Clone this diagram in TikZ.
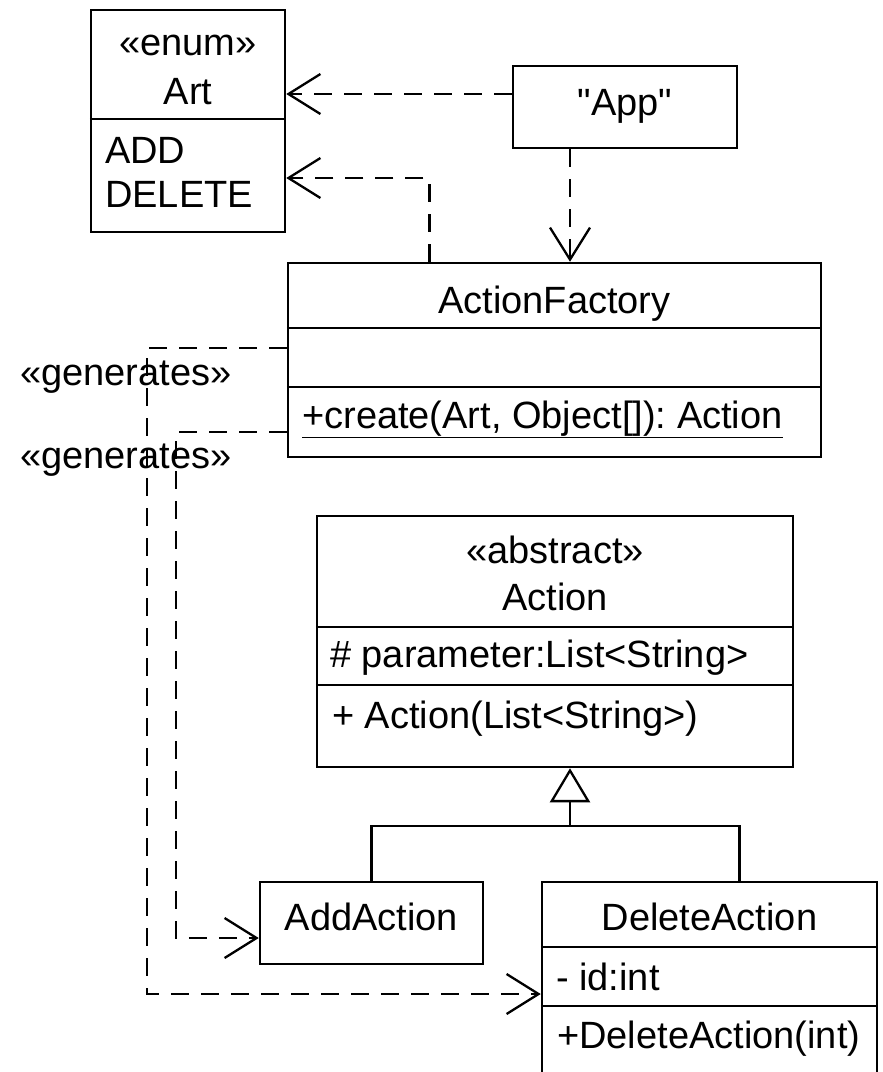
\documentclass[tikz,border=0pt]{standalone}
\usepackage{fontspec}
\setmainfont{Liberation Sans}
\usetikzlibrary{arrows.meta, calc}

\begin{document}
\begin{tikzpicture}[
      x=1pt, y=-1pt,
      every node/.style={font=\fontsize{38}{44}\selectfont\frenchspacing},
      myclass/.style={
         rectangle,
         draw=black,
         fill=white,
         line width=2.5pt,
         inner sep=0pt},
      mytext/.style={
         inner sep=0pt,
         anchor=base},
      myleft/.style={
         inner sep=0pt,
         anchor=base west},
      mysep/.style={line width=2.5pt},
      myline/.style={line width=2.3pt},
      mydep/.style={
         line width=2.3pt,
         dash pattern=on 18pt off 12pt,
         -{Straight Barb[length=32pt,width=40pt]}},
      myinherit/.style={
         line width=2.3pt,
         -{Triangle[open,length=34pt,width=40pt]}}
      ]
      \path[use as bounding box, fill=white] (0,0) rectangle (883,1072);

      % class boxes
      \node[myclass, minimum width=194pt, minimum height=222pt] (art) at (188,121) {};
      \node[myclass, minimum width=224pt, minimum height=82pt] (app) at (625,107) {};
      \node[myclass, minimum width=533pt, minimum height=194pt] (factory) at (554.5,360) {};
      \node[myclass, minimum width=476pt, minimum height=251pt] (action) at (555,641.5) {};
      \node[myclass, minimum width=223pt, minimum height=82pt] (addact) at (371.5,923) {};
      \node[myclass, minimum width=335pt, minimum height=208pt] (delact) at (709.5,986) {};

      % compartment lines
      \foreach \n/\y in {art/119, factory/328, factory/387, action/627,
                         action/685, delact/947, delact/1006}
         \draw[mysep] (\n.west |- 0,\y) -- (\n.east |- 0,\y);

      \node[mytext] (artst) at (188,55) {«enum»};
      \node[mytext] (artname) at (188,104) {Art};
      \node[myleft] (artadd) at (105,163) {ADD};
      \node[myleft] (artdel) at (105,207) {DELETE};
      \node[mytext] (appname) at (625,115) {\textquotedbl App\textquotedbl};
      \node[mytext] (facname) at (554.5,313) {ActionFactory};
      \node[myleft] (faccreate) at (302,428) {\underline{+create(Art, Object[]): Action}};
      \node[mytext] (actst) at (555,563) {«abstract»};
      \node[mytext] (actname) at (555,610) {Action};
      \node[myleft] (actparam) at (330,667) {\# parameter:List<String>};
      \node[myleft] (actctor) at (332,728) {+ Action(List<String>)};
      \node[mytext] (addname) at (371.5,930) {AddAction};
      \node[mytext] (delname) at (709.5,930) {DeleteAction};
      \node[myleft] (delid) at (556,990) {- id:int};
      \node[myleft] (delctor) at (557,1048) {+DeleteAction(int)};
      \node[myleft] (gen1) at (20,385) {«generates»};
      \node[myleft] (gen2) at (20,468) {«generates»};

      % dependencies
      \draw[mydep] ([yshift=13pt]app.west) -- ([yshift=13pt]app.west -| art.east);
      \draw[mydep] ([xshift=-125pt]factory.north) |- ([yshift=-57pt]art.east);
      \draw[mydep] ([xshift=-55pt]app.south) -- ([xshift=-55pt]app.south |- factory.north);
      \draw[mydep] ([yshift=12pt]factory.west) -- ++(-140,0) |- ([yshift=-8pt]delact.west);
      \draw[mydep] ([yshift=-72pt]factory.west) -- ++(-111,0) |- ([yshift=-15pt]addact.west);

      % inheritance
      \coordinate (inh) at ([xshift=15pt]action.south |- 0,826);
      \draw[myline] (addact.north) |- (inh) -| ([xshift=30pt]delact.north);
      \draw[myinherit] (inh) -- ([xshift=15pt]action.south);
    \end{tikzpicture}
\end{document}
